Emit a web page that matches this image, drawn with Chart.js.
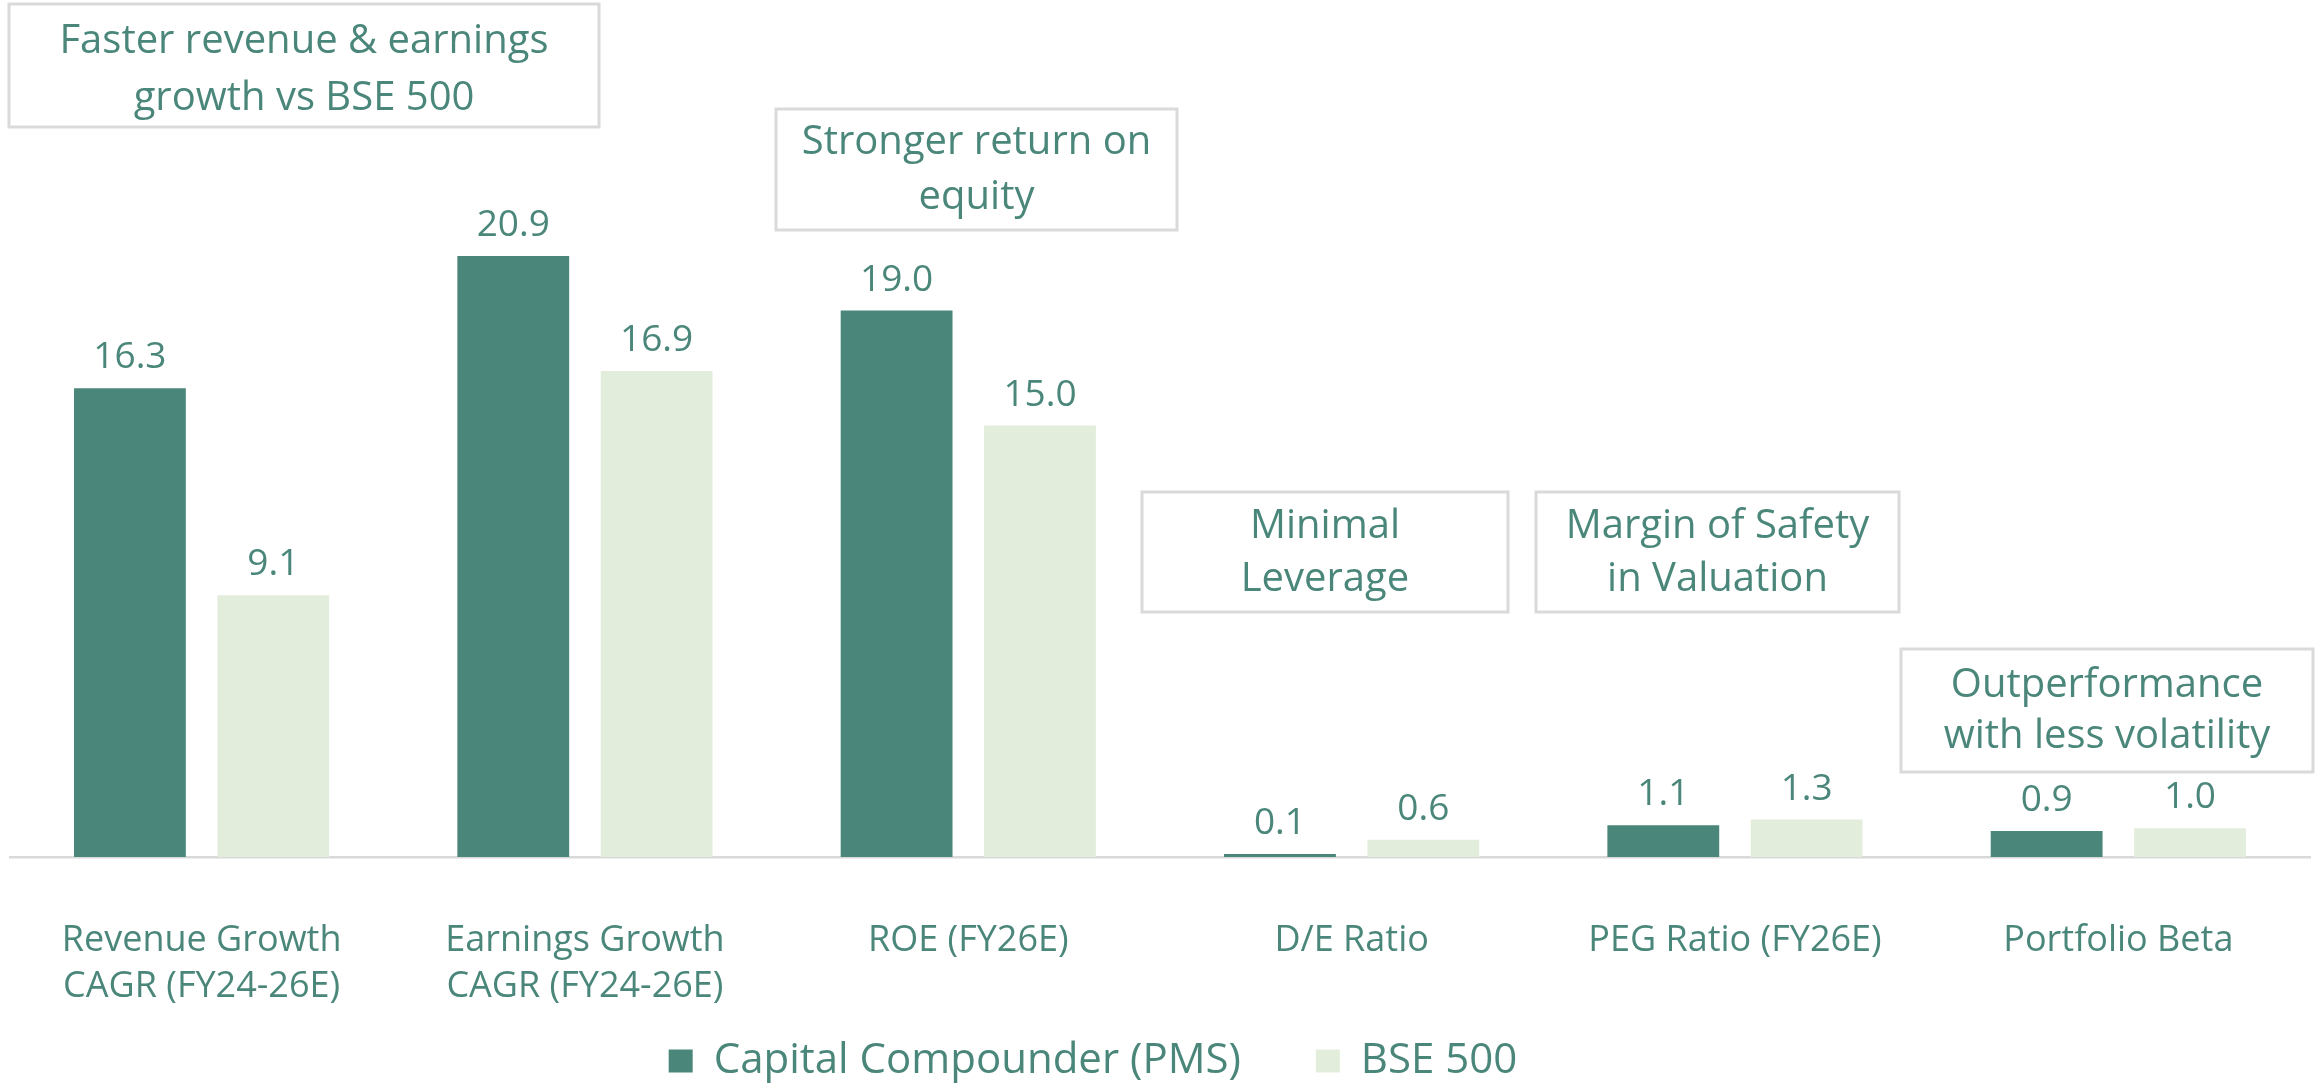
<!DOCTYPE html>
<html><head><meta charset="utf-8">
<script src="https://cdn.jsdelivr.net/npm/chart.js@4.4.1/dist/chart.umd.min.js"></script>
<style>html,body{margin:0;padding:0;background:#fff;overflow:hidden}#wrap{width:2323px;height:1085px;position:relative}</style>
</head><body><div id="wrap"><canvas id="c" width="2323" height="1085"></canvas></div>
<script>
const categories = [["Revenue Growth","CAGR (FY24-26E)"],["Earnings Growth","CAGR (FY24-26E)"],"ROE (FY26E)","D/E Ratio","PEG Ratio (FY26E)","Portfolio Beta"];
const seriesNames = ["Capital Compounder (PMS)","BSE 500"];
const pmsValues = [16.3,20.9,19.0,0.1,1.1,0.9];
const bseValues = [9.1,16.9,15.0,0.6,1.3,1.0];
const calloutTexts = [["Faster revenue & earnings","growth vs BSE 500"],["Stronger return on","equity"],["Minimal","Leverage"],["Margin of Safety","in Valuation"],["Outperformance","with less volatility"]];

// layout of the callout boxes (pixels: left, top, right, bottom, text centre y, line spacing)
const calloutBoxes = [[9,4,599,127,70,57],[776,109,1177,230,170,55],[1142,492,1508,612,553,53],[1536,492,1899,612,553,53],[1901,649,2313,772,711,51]];

const DARK = '#4a877a', LIGHT = '#e2eedb', TEXT = '#4a877a', FONT = '"Open Sans"';

const valueLabels = {
  id:'valueLabels',
  afterDatasetsDraw(chart){
    const ctx = chart.ctx;
    ctx.save();
    ctx.font = '37px ' + FONT;
    ctx.fillStyle = TEXT;
    ctx.textAlign = 'center';
    ctx.textBaseline = 'alphabetic';
    chart.data.datasets.forEach((ds,i)=>{
      const meta = chart.getDatasetMeta(i);
      meta.data.forEach((bar,j)=>{
        ctx.fillText(ds.data[j].toFixed(1), bar.x, bar.y - 20);
      });
    });
    ctx.restore();
  }
};
const callouts = {
  id:'callouts',
  afterDraw(chart){
    const ctx = chart.ctx;
    ctx.save();
    calloutTexts.forEach((lines,i)=>{
      const [l,t,r,b,cy,lh] = calloutBoxes[i];
      ctx.fillStyle = '#fff';
      ctx.fillRect(l,t,r-l,b-t);
      ctx.strokeStyle = '#dadada';
      ctx.lineWidth = 3;
      ctx.strokeRect(l,t,r-l,b-t);
      ctx.fillStyle = TEXT;
      ctx.font = '40px ' + FONT;
      ctx.textAlign = 'center';
      ctx.textBaseline = 'middle';
      const cx = (l+r)/2;
      lines.forEach((s,k)=>{
        ctx.fillText(s, cx, cy + (k - (lines.length-1)/2)*lh);
      });
    });
    ctx.restore();
  }
};
const layoutTweaks = {
  id:'layoutTweaks',
  afterLayout(chart){
    if (chart.legend) chart.legend.right -= 133;
    // let the two-line category labels extend below the compact axis box
    if (chart.scales.x) chart.scales.x.bottom = chart.height;
  }
};

new Chart(document.getElementById('c'), {
  type:'bar',
  data:{
    labels: categories,
    datasets:[
      {label: seriesNames[0], data: pmsValues, backgroundColor: DARK, borderWidth:0, categoryPercentage:0.748, barPercentage:0.78},
      {label: seriesNames[1], data: bseValues, backgroundColor: LIGHT, borderWidth:0, categoryPercentage:0.748, barPercentage:0.78}
    ]
  },
  options:{
    responsive:false,
    animation:false,
    layout:{padding:{left:9,right:13,top:0,bottom:-7}},
    scales:{
      y:{display:false, min:0, max:29.8},
      x:{
        grid:{display:false, drawTicks:false},
        border:{display:true, color:'#d9d9d9', width:2.5},
        ticks:{color:TEXT, font:{family:'Open Sans',size:36,lineHeight:1.28}, padding:61, maxRotation:0, autoSkip:false},
        afterFit(scale){ scale.height = 108; }
      }
    },
    plugins:{
      legend:{position:'bottom', labels:{color:TEXT, font:{family:'Open Sans',size:42}, boxWidth:24, boxHeight:23, padding:75}},
      tooltip:{enabled:false}
    }
  },
  plugins:[valueLabels, callouts, layoutTweaks]
});
</script></body></html>
